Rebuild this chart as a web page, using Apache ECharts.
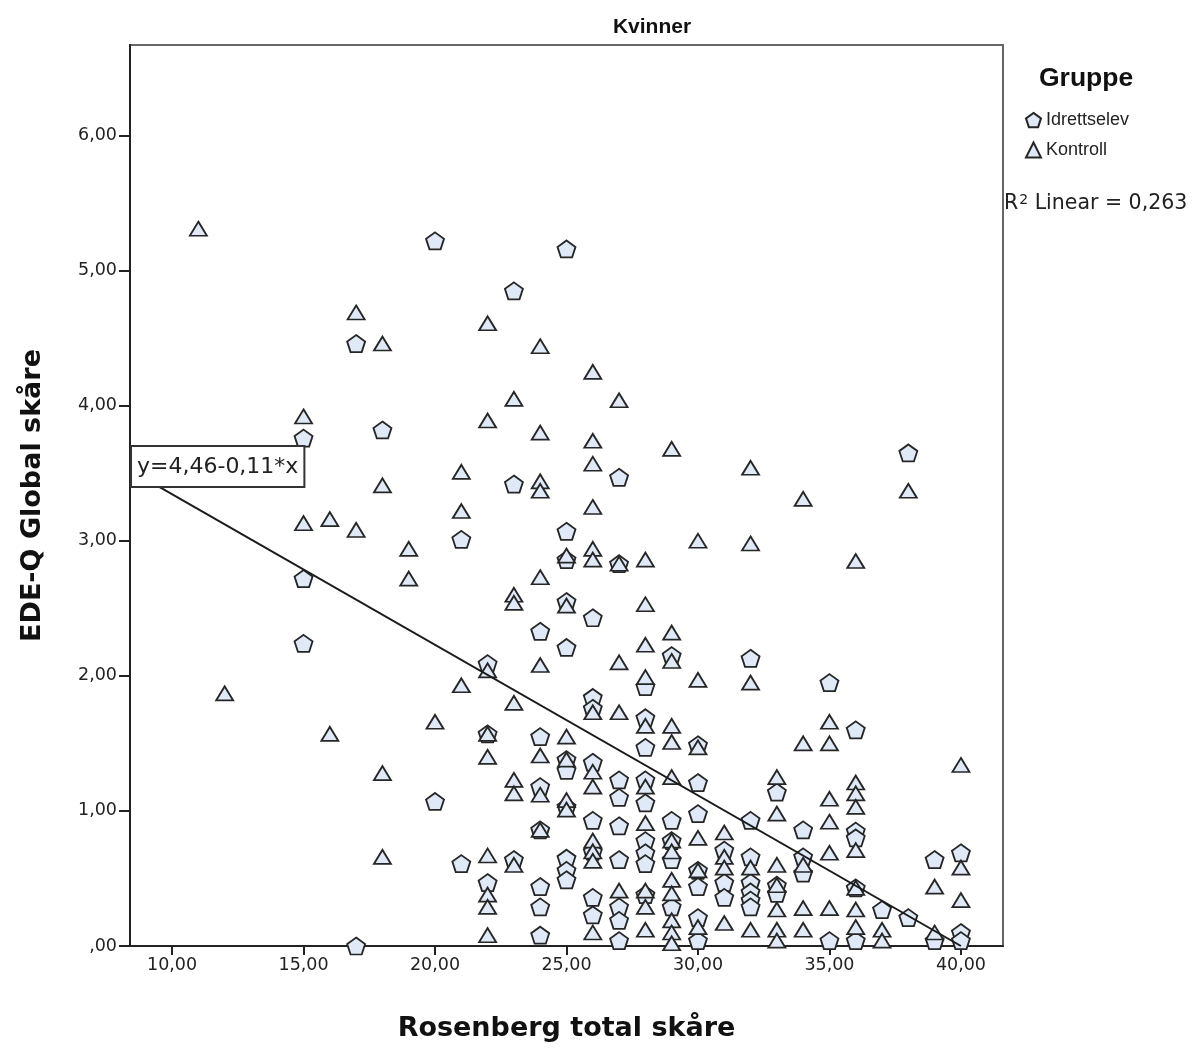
<!DOCTYPE html>
<html lang="no" style="height: 100%">
<head>
  <meta charset="utf-8">
</head>
<body style="height: 100%; margin: 0; background: #fff">
  <div id="container" style="width: 1202px; height: 1048px"></div>

  <script type="text/javascript" src="https://cdn.jsdelivr.net/npm/echarts@6/dist/echarts.min.js"></script>
  <script type="text/javascript">
    // Rosenberg total skåre (x) vs EDE-Q Global skåre (y)
    var idrettselev = [
      [15, 3.76], [15, 2.72], [15, 2.24],
      [17, 4.46], [17, 0.0],
      [18, 3.82],
      [20, 5.22], [20, 1.07],
      [21, 3.01], [21, 0.61],
      [22, 2.09], [22, 1.57], [22, 0.47],
      [23, 4.85], [23, 3.42], [23, 0.64],
      [24, 2.33], [24, 1.55], [24, 1.18], [24, 0.86], [24, 0.44], [24, 0.29], [24, 0.08],
      [25, 5.16], [25, 3.07], [25, 2.86], [25, 2.55], [25, 2.21], [25, 1.38], [25, 1.30], [25, 1.03], [25, 0.65], [25, 0.56], [25, 0.49],
      [26, 2.43], [26, 1.84], [26, 1.76], [26, 1.36], [26, 0.93], [26, 0.70], [26, 0.36], [26, 0.23],
      [27, 3.47], [27, 2.83], [27, 1.23], [27, 1.10], [27, 0.89], [27, 0.64], [27, 0.29], [27, 0.19], [27, 0.04],
      [28, 1.92], [28, 1.69], [28, 1.47], [28, 1.23], [28, 1.06], [28, 0.78], [28, 0.69], [28, 0.61], [28, 0.38],
      [29, 2.15], [29, 0.93], [29, 0.78], [29, 0.64], [29, 0.29],
      [30, 1.49], [30, 1.21], [30, 0.98], [30, 0.56], [30, 0.44], [30, 0.21], [30, 0.04],
      [31, 0.71], [31, 0.47], [31, 0.36],
      [32, 2.13], [32, 0.93], [32, 0.66], [32, 0.47], [32, 0.40], [32, 0.34], [32, 0.29],
      [33, 1.14], [33, 0.45], [33, 0.39],
      [34, 0.86], [34, 0.66], [34, 0.54],
      [35, 1.95], [35, 0.04],
      [36, 1.60], [36, 0.85], [36, 0.80], [36, 0.43], [36, 0.04],
      [37, 0.27],
      [38, 3.65], [38, 0.21],
      [39, 0.64], [39, 0.04],
      [40, 0.69], [40, 0.10], [40, 0.04]
    ];
    var kontroll = [
      [11, 5.31], [12, 1.87],
      [15, 3.92], [15, 3.13],
      [16, 3.16], [16, 1.57],
      [17, 4.69], [17, 3.08],
      [18, 4.46], [18, 3.41], [18, 1.28], [18, 0.66],
      [19, 2.94], [19, 2.72],
      [20, 1.66],
      [21, 3.51], [21, 3.22], [21, 1.93],
      [22, 4.61], [22, 3.89], [22, 2.04], [22, 1.57], [22, 1.40], [22, 0.67], [22, 0.38], [22, 0.29], [22, 0.08],
      [23, 4.05], [23, 2.60], [23, 2.54], [23, 1.80], [23, 1.23], [23, 1.13], [23, 0.60],
      [24, 4.44], [24, 3.80], [24, 3.44], [24, 3.37], [24, 2.73], [24, 2.08], [24, 1.41], [24, 1.12], [24, 0.86],
      [25, 2.89], [25, 2.52], [25, 1.55], [25, 1.38], [25, 1.08], [25, 1.01],
      [26, 4.25], [26, 3.74], [26, 3.57], [26, 3.25], [26, 2.94], [26, 2.86], [26, 1.73], [26, 1.29], [26, 1.18], [26, 0.78], [26, 0.70], [26, 0.63], [26, 0.10],
      [27, 4.04], [27, 2.83], [27, 2.10], [27, 1.73], [27, 0.41],
      [28, 2.86], [28, 2.53], [28, 2.23], [28, 1.99], [28, 1.63], [28, 1.18], [28, 0.91], [28, 0.41], [28, 0.29], [28, 0.12],
      [29, 3.68], [29, 2.32], [29, 2.11], [29, 1.63], [29, 1.51], [29, 1.25], [29, 0.78], [29, 0.70], [29, 0.49], [29, 0.39], [29, 0.19], [29, 0.10], [29, 0.02],
      [30, 3.00], [30, 1.97], [30, 1.47], [30, 0.80], [30, 0.56], [30, 0.14],
      [31, 0.84], [31, 0.66], [31, 0.58], [31, 0.17],
      [32, 3.54], [32, 2.98], [32, 1.95], [32, 0.58], [32, 0.12],
      [33, 1.25], [33, 0.98], [33, 0.60], [33, 0.45], [33, 0.27], [33, 0.12], [33, 0.04],
      [34, 3.31], [34, 1.50], [34, 0.60], [34, 0.28], [34, 0.12],
      [35, 1.66], [35, 1.50], [35, 1.09], [35, 0.92], [35, 0.69], [35, 0.28],
      [36, 2.85], [36, 1.21], [36, 1.13], [36, 1.03], [36, 0.71], [36, 0.43], [36, 0.27], [36, 0.14],
      [37, 0.12], [37, 0.04],
      [38, 3.37],
      [39, 0.44], [39, 0.10],
      [40, 1.34], [40, 0.58], [40, 0.34]
    ];
    var xTicks = [10, 15, 20, 25, 30, 35, 40];
    var yTicks = [0, 1, 2, 3, 4, 5, 6];
    var xMin = 8.4, xMax = 41.6;
    var yMin = 0, yMax = 6.67;

    // linear fit as printed in the chart: y = 4,46 - 0,11*x  (R2 = 0,263)
    var fitIntercept = 4.46;
    var fitSlope = -0.1115;
    var fitXEnd = 40;
    var fitLine = [
      [xMin, fitIntercept + fitSlope * xMin],
      [fitXEnd, fitIntercept + fitSlope * fitXEnd]
    ];

    var pentagon = 'path://M0,-1 L0.951,-0.309 L0.588,0.809 L-0.588,0.809 L-0.951,-0.309 Z';
    var fill = '#dfe9f7';
    var edge = '#262626';
    var font = '"Liberation Sans", Arial, sans-serif';
    var wide = '"DejaVu Sans", Verdana, sans-serif';

    function fmt(v) {
      var s = v.toFixed(2).replace('.', ',');
      return s.indexOf('0,') === 0 ? s.slice(1) : s;
    }

    var myChart = echarts.init(document.getElementById('container'));
    myChart.setOption({
      animation: false,
      backgroundColor: '#fff',
      textStyle: { fontFamily: font },
      title: [
        {
          text: 'Kvinner',
          left: 647, top: 12, textAlign: 'center',
          textStyle: { fontSize: 21, fontWeight: 'bold', color: '#111', fontFamily: font }
        },
        {
          text: 'Gruppe',
          left: 1034, top: 60,
          textStyle: { fontSize: 26.5, fontWeight: 'bold', color: '#111', fontFamily: font }
        }
      ],
      legend: {
        orient: 'vertical',
        left: 1020, top: 106,
        itemWidth: 15, itemHeight: 15, itemGap: 12,
        textStyle: { fontSize: 18, color: '#222', fontFamily: font },
        data: [
          { name: 'Idrettselev', icon: pentagon },
          { name: 'Kontroll', icon: 'triangle' }
        ]
      },
      grid: {
        left: 130, right: 199, top: 45, bottom: 102,
        show: true, borderColor: '#666', borderWidth: 2, backgroundColor: '#fff'
      },
      xAxis: {
        type: 'value', min: xMin, max: xMax,
        name: 'Rosenberg total skåre', nameLocation: 'middle', nameGap: 69,
        nameTextStyle: { fontSize: 27, fontWeight: 'bold', color: '#111', fontFamily: wide },
        axisLine: { onZero: false, lineStyle: { color: '#222', width: 2 } },
        axisTick: { customValues: xTicks, length: 9, lineStyle: { color: '#222', width: 2 } },
        axisLabel: { customValues: xTicks, formatter: fmt, fontSize: 17.5, color: '#222', margin: 10, fontFamily: wide },
        splitLine: { show: false }
      },
      yAxis: {
        type: 'value', min: yMin, max: yMax,
        name: 'EDE-Q Global skåre', nameLocation: 'middle', nameGap: 84, nameRotate: 90,
        nameTextStyle: { fontSize: 27, fontWeight: 'bold', color: '#111', fontFamily: wide },
        axisLine: { onZero: false, lineStyle: { color: '#222', width: 2 } },
        axisTick: { customValues: yTicks, length: 11, lineStyle: { color: '#222', width: 2 } },
        axisLabel: { customValues: yTicks, formatter: fmt, fontSize: 17.5, color: '#222', margin: 13, fontFamily: wide },
        splitLine: { show: false }
      },
      graphic: [
        {
          type: 'text', left: 1004, top: 193, z: 100,
          style: {
            text: '{r|R}{s|2}{r| Linear = 0,263}',
            rich: {
              r: { fontSize: 20.5, fill: '#222', fontFamily: wide, verticalAlign: 'bottom' },
              s: { fontSize: 14, fill: '#222', fontFamily: wide, verticalAlign: 'top', padding: [0, 0, 7, 1] }
            }
          }
        },
        {
          type: 'text', left: 130, top: 445, z: 100,
          style: {
            text: 'y=4,46-0,11*x',
            fontSize: 22, fill: '#222', fontFamily: wide,
            backgroundColor: '#fff', borderColor: '#333', borderWidth: 2,
            padding: [9, 5, 8, 5]
          }
        }
      ],
      series: [
        {
          name: 'Fit', type: 'line', data: fitLine,
          symbol: 'none', silent: true, z: 3,
          lineStyle: { color: '#1a1a1a', width: 2 }
        },
        {
          name: 'Idrettselev', type: 'scatter', data: idrettselev,
          symbol: pentagon, symbolSize: [18, 17], z: 2,
          itemStyle: { color: fill, borderColor: edge, borderWidth: 1.8, opacity: 1 }
        },
        {
          name: 'Kontroll', type: 'scatter', data: kontroll,
          symbol: 'triangle', symbolSize: [17, 14], z: 2,
          itemStyle: { color: fill, borderColor: edge, borderWidth: 1.8, opacity: 1 }
        }
      ]
    });
  </script>
</body>
</html>
